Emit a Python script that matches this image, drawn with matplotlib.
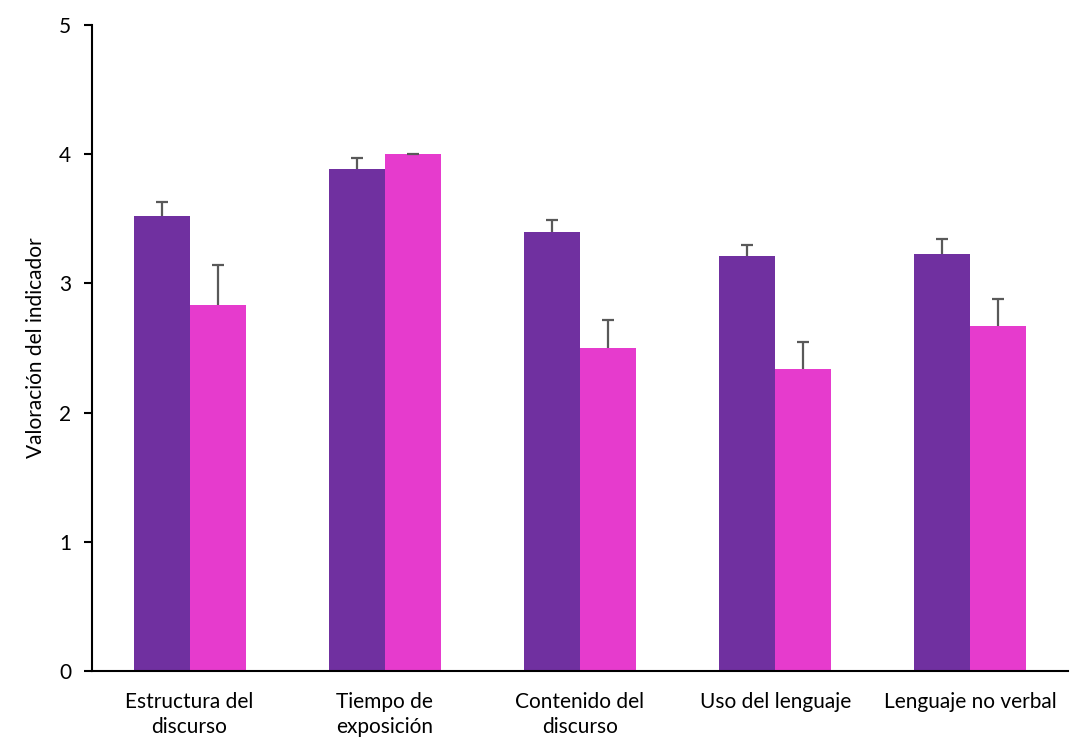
import matplotlib
matplotlib.use("Agg")
import matplotlib.pyplot as plt
import numpy as np

plt.rcParams['font.family'] = ['Lato', 'DejaVu Sans']

# Data
categories = ["Estructura del\ndiscurso", "Tiempo de\nexposición", "Contenido del\ndiscurso",
              "Uso del lenguaje", "Lenguaje no verbal"]
group_a = [3.52, 3.885, 3.40, 3.21, 3.23]
group_a_err = [0.11, 0.085, 0.09, 0.09, 0.11]
group_b = [2.83, 4.00, 2.50, 2.34, 2.67]
group_b_err = [0.31, 0.005, 0.22, 0.21, 0.21]

purple = "#7030A0"
pink = "#E63BCD"
err_color = "#595959"

fig = plt.figure(figsize=(10.92, 7.55), dpi=100)
ax = fig.add_axes([0.0842, 0.1113, 0.8938, 0.8556])

x = np.arange(len(categories))
w = 0.287

err_kw = dict(ecolor=err_color, elinewidth=1.6, capsize=4.5, capthick=1.6)
bars_a = ax.bar(x - w / 2, group_a, width=w, color=purple,
                yerr=[np.zeros(len(group_a)), group_a_err], error_kw=err_kw)
bars_b = ax.bar(x + w / 2, group_b, width=w, color=pink,
                yerr=[np.zeros(len(group_b)), group_b_err], error_kw=err_kw)

# only the upper caps, like the original
for bars in (bars_a, bars_b):
    caps = bars.errorbar.lines[1]
    caps[0].set_visible(False)

ax.set_xlim(-0.5, len(categories) - 0.5)
ax.set_ylim(0, 5)
ax.set_yticks([0, 1, 2, 3, 4, 5])
ax.set_xticks(x)
ax.set_xticklabels(categories, fontsize=15, linespacing=1.35)
ax.tick_params(axis='y', labelsize=15, length=6, width=1.5, pad=9)
ax.tick_params(axis='x', length=0, pad=15)

for side in ['top', 'right']:
    ax.spines[side].set_visible(False)
for side in ['left', 'bottom']:
    ax.spines[side].set_linewidth(1.5)

ax.set_ylabel("Valoración del indicador", fontsize=15, labelpad=9)

fig.savefig("out.png", dpi=100)
